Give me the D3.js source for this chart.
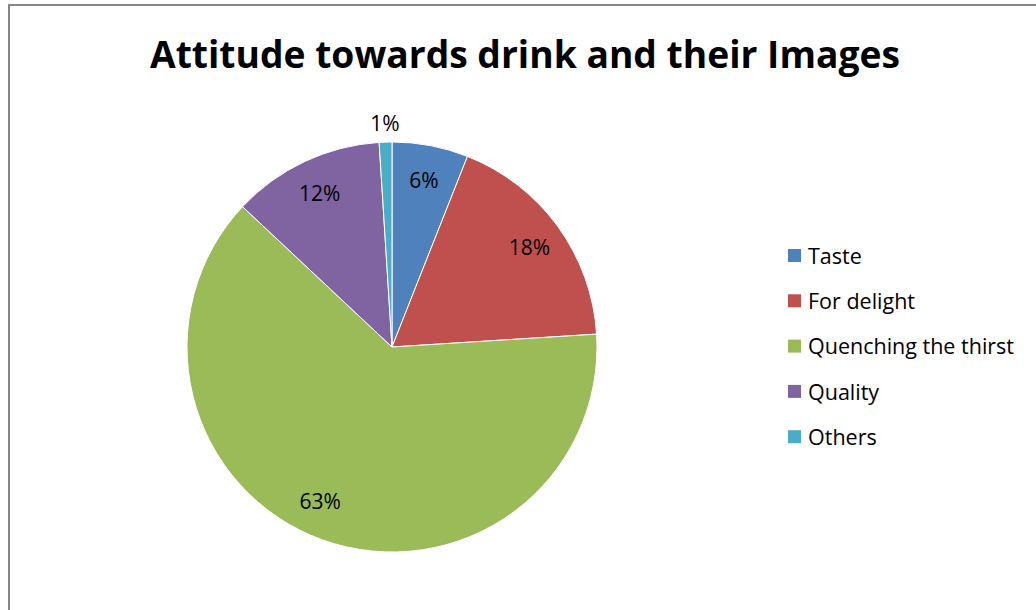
<!DOCTYPE html>
<html>
<head>
<meta charset="utf-8">
<script src="https://cdn.jsdelivr.net/npm/d3@7"></script>
<style>
  html, body { margin: 0; padding: 0; background: #fff; }
  svg { display: block; }
  text { font-variant-ligatures: none; }
</style>
</head>
<body>
<svg id="chart" width="1036" height="610"></svg>
<script>
// Survey shares: attitude towards drink
const categories = ["Taste", "For delight", "Quenching the thirst", "Quality", "Others"];
const shares = [6, 18, 63, 12, 1];
const colors = ["#4F81BD", "#C0504D", "#9BBB59", "#8064A2", "#4BACC6"];
const chartTitle = "Attitude towards drink and their Images";

const svg = d3.select("#chart");
const W = 1036, H = 610;
const font = "'Open Sans', Lato, 'DejaVu Sans', sans-serif";

// outer frame (open to the right and bottom)
svg.append("rect")
  .attr("x", 9).attr("y", 5)
  .attr("width", W + 20).attr("height", H + 20)
  .attr("fill", "#fff")
  .attr("stroke", "#868686").attr("stroke-width", 2);

// title
svg.append("text")
  .attr("x", 525).attr("y", 68)
  .attr("text-anchor", "middle")
  .attr("font-family", font)
  .attr("font-weight", "bold")
  .attr("font-size", 37)
  .attr("textLength", 750)
  .attr("lengthAdjust", "spacingAndGlyphs")
  .attr("fill", "#000")
  .text(chartTitle);

// pie
const cx = 392, cy = 347, R = 205;
const data = categories.map((c, i) => ({ name: c, value: shares[i], color: colors[i] }));
const pie = d3.pie().value(d => d.value).sort(null);
const arcs = pie(data);
const arc = d3.arc().innerRadius(0).outerRadius(R);

const g = svg.append("g").attr("transform", `translate(${cx},${cy})`);
g.selectAll("path.slice")
  .data(arcs)
  .enter().append("path")
  .attr("class", "slice")
  .attr("d", arc)
  .attr("fill", d => d.data.color)
  .attr("stroke", "#fff")
  .attr("stroke-width", 1);

// data labels: inside for large slices, outside for the tiny one
const labelRadius = d => d.data.value < 3 ? 224 : 170;
const labelAngle = d => {
  const mid = (d.startAngle + d.endAngle) / 2;
  // the largest slice's label sits a little further round
  return d.data.value > 50 ? mid + 0.09 : mid;
};
g.selectAll("text.lbl")
  .data(arcs)
  .enter().append("text")
  .attr("class", "lbl")
  .attr("x", d => Math.sin(labelAngle(d)) * labelRadius(d))
  .attr("y", d => -Math.cos(labelAngle(d)) * labelRadius(d))
  .attr("dy", "0.36em")
  .attr("text-anchor", "middle")
  .attr("font-family", font)
  .attr("font-size", 21)
  .attr("fill", "#000")
  .text(d => d.data.value + "%");

// legend
const legend = svg.append("g").attr("transform", "translate(788,256)");
const rows = legend.selectAll("g.row")
  .data(data)
  .enter().append("g")
  .attr("class", "row")
  .attr("transform", (d, i) => `translate(0,${i * 45.3})`);
rows.append("rect")
  .attr("x", 0).attr("y", -7)
  .attr("width", 13).attr("height", 13)
  .attr("fill", d => d.color);
rows.append("text")
  .attr("x", 20).attr("y", 0)
  .attr("dy", "0.36em")
  .attr("font-family", font)
  .attr("font-size", 21.5)
  .attr("fill", "#000")
  .text(d => d.name);
</script>
</body>
</html>
